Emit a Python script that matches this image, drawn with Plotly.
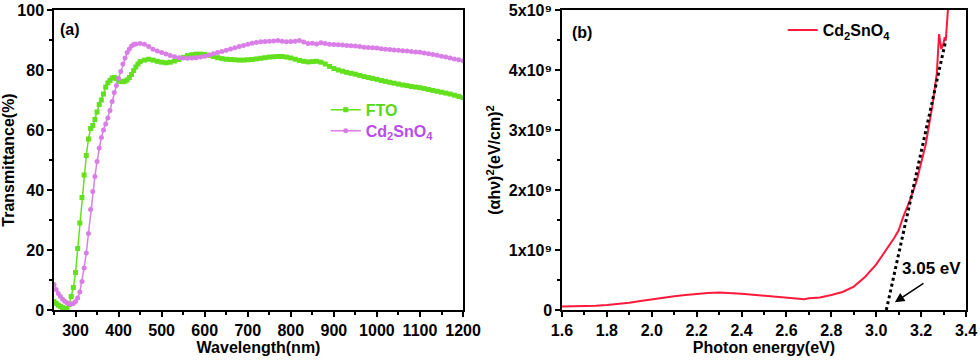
import plotly.graph_objects as go

GREEN = "#63E01E"
VIOLET = "#D97EE6"
VIOLET_TXT = "#B94CEB"
RED = "#FF1A3C"
FONT = "Liberation Sans, Arial, sans-serif"

# (a) transmittance
fto_nm = [250, 255, 260, 265, 270, 275, 280, 285, 290, 295, 300, 305, 310, 315, 320, 325,
          330, 335, 340, 345, 350, 355, 360, 365, 370, 375, 380, 385, 390, 395, 400, 405,
          410, 415, 420, 425, 430, 435, 440, 445, 450, 460, 470, 480, 490, 500, 510, 520,
          530, 540, 550, 560, 570, 580, 590, 600, 610, 620, 630, 640, 650, 660, 670, 680,
          690, 700, 710, 720, 730, 740, 750, 760, 770, 780, 790, 800, 810, 820, 830, 840,
          850, 860, 870, 880, 890, 900, 910, 920, 930, 940, 950, 960, 970, 980, 990, 1000,
          1010, 1020, 1030, 1040, 1050, 1060, 1070, 1080, 1090, 1100, 1110, 1120, 1130,
          1140, 1150, 1160, 1170, 1180, 1190, 1200]
fto_t = [2.8, 2.2, 1.6, 1.2, 0.8, 0.5, 0.4, 1.8, 4.5, 7.5, 12.5, 20.5, 29, 37.5, 45, 51.5,
         57, 60.5, 61.5, 63.5, 66, 68.5, 70, 72, 74.3, 75.7, 76.5, 77.3, 77.5, 77.2, 76.6, 76.2,
         76.1, 76.3, 76.7, 77.5, 78.5, 79.8, 81, 82, 82.8, 83.3, 83.6, 83.3, 82.9, 82.6, 82.4, 82.6,
         83, 83.5, 84.2, 84.8, 85.1, 85.3, 85.3, 85.2, 84.9, 84.5, 84.1, 83.8, 83.6, 83.5, 83.4, 83.3,
         83.3, 83.4, 83.5, 83.7, 83.9, 84.1, 84.3, 84.4, 84.5, 84.5, 84.3, 84.0, 83.6, 83.2, 82.9, 82.7,
         82.8, 82.9, 82.6, 82.0, 81.2, 80.5, 80.0, 79.6, 79.2, 78.9, 78.6, 78.2, 77.8, 77.5, 77.2, 76.9,
         76.5, 76.2, 75.9, 75.6, 75.3, 75.0, 74.8, 74.5, 74.3, 74.1, 73.8, 73.5, 73.2,
         72.9, 72.6, 72.3, 72.0, 71.6, 71.2, 70.8]

cso_nm = [250, 255, 260, 265, 270, 275, 280, 285, 290, 295, 300, 305, 310, 315, 320, 325,
          330, 335, 340, 345, 350, 355, 360, 365, 370, 375, 380, 385, 390, 395, 400, 405,
          410, 415, 420, 425, 430, 435, 440, 450, 460, 470, 480, 490, 500, 510, 520, 530,
          540, 550, 560, 570, 580, 590, 600, 610, 620, 630, 640, 650, 660, 670, 680, 690,
          700, 710, 720, 730, 740, 750, 760, 770, 780, 790, 800, 810, 820, 830, 840, 850,
          860, 870, 880, 890, 900, 910, 920, 930, 940, 950, 960, 970, 980, 990, 1000,
          1010, 1020, 1030, 1040, 1050, 1060, 1070, 1080, 1090, 1100, 1110, 1120, 1130,
          1140, 1150, 1160, 1170, 1180, 1190, 1200]
cso_t = [8.5, 6.8, 5.5, 4.5, 3.6, 2.9, 2.4, 2.0, 2.0, 2.2, 2.8, 4.0, 6.0, 9.5, 14, 19,
         25.5, 33.5, 39.5, 44.5, 49.5, 54, 57.5, 60, 62, 64, 66.5, 69.5, 72.5, 74.8, 77.2, 79.5,
         82, 84, 85.8, 87, 88, 88.5, 88.7, 88.8, 88.6, 87.8, 86.9, 86.3, 85.8, 85.3, 84.8, 84.4,
         84.1, 84.0, 83.9, 84.0, 84.1, 84.3, 84.6, 85.0, 85.4, 85.8, 86.2, 86.6, 87.0, 87.4, 87.8, 88.2,
         88.6, 88.9, 89.2, 89.4, 89.5, 89.6, 89.7, 89.8, 89.6, 89.4, 89.5, 89.6, 89.8, 89.3, 88.8, 88.9,
         88.7, 89.1, 88.8, 88.6, 88.5, 88.4, 88.3, 88.2, 88.1, 88.0, 87.8, 87.6, 87.5, 87.4, 87.3,
         87.1, 86.9, 86.8, 86.7, 86.6, 86.4, 86.3, 86.2, 86.0, 85.9, 85.7, 85.4, 85.2,
         84.9, 84.6, 84.3, 84.0, 83.7, 83.4, 83.1]

# (b) Tauc plot, y in units of 1e9
ev = [1.60, 1.65, 1.70, 1.75, 1.80, 1.85, 1.90, 1.95, 2.00, 2.05, 2.10, 2.15, 2.20, 2.25,
      2.30, 2.35, 2.40, 2.45, 2.50, 2.55, 2.60, 2.65, 2.68, 2.70, 2.75, 2.80, 2.85, 2.90,
      2.95, 3.00, 3.02, 3.05, 3.08, 3.10, 3.12, 3.15, 3.18, 3.20, 3.22, 3.25, 3.27, 3.28,
      3.29, 3.30, 3.305, 3.31, 3.315, 3.32, 3.325]
ahv = [0.06, 0.062, 0.065, 0.072, 0.085, 0.10, 0.12, 0.15, 0.18, 0.205, 0.23, 0.25, 0.27, 0.285,
       0.29, 0.285, 0.27, 0.255, 0.24, 0.22, 0.20, 0.19, 0.18, 0.195, 0.21, 0.25, 0.30, 0.39,
       0.55, 0.76, 0.87, 1.02, 1.2, 1.33, 1.55, 1.83, 2.15, 2.45, 2.75, 3.4, 3.95, 4.6,
       4.35, 4.45, 4.55, 4.5, 4.7, 5.0, 5.3]
fit_ev = [3.045, 3.31]
fit_y = [0.0, 4.5]
y2_ticks = [0, 1, 2, 3, 4, 5]

fig = go.Figure()

fig.add_trace(go.Scatter(
    x=fto_nm, y=fto_t, mode="lines+markers",
    name='<span style="color:#55D81A">FTO</span>',
    line=dict(color=GREEN, width=1.5),
    marker=dict(symbol="square", size=5, color=GREEN),
    xaxis="x", yaxis="y", legend="legend",
))
fig.add_trace(go.Scatter(
    x=cso_nm, y=cso_t, mode="lines+markers",
    name=f'<span style="color:{VIOLET_TXT}">Cd<sub>2</sub>SnO<sub>4</sub></span>',
    line=dict(color=VIOLET, width=1.5),
    marker=dict(symbol="circle", size=5, color=VIOLET),
    xaxis="x", yaxis="y", legend="legend3",
))
fig.add_trace(go.Scatter(
    x=ev, y=[v * 1e9 for v in ahv], mode="lines",
    name="Cd<sub>2</sub>SnO<sub>4</sub>",
    line=dict(color=RED, width=2),
    xaxis="x2", yaxis="y2", legend="legend2",
))
fig.add_trace(go.Scatter(
    x=fit_ev, y=[v * 1e9 for v in fit_y], mode="lines",
    line=dict(color="black", width=3, dash="dot"),
    showlegend=False, xaxis="x2", yaxis="y2",
))

axis_common = dict(
    showline=True, linecolor="black", linewidth=1.5, mirror=True,
    ticks="outside", ticklen=5, tickwidth=1.5, tickcolor="black",
    showgrid=False, zeroline=False, automargin=False,
    tickfont=dict(family=FONT, size=16, color="black", weight="bold"),
)
title_font = dict(family=FONT, size=16, color="black", weight="bold")
leg_common = dict(xanchor="left", yanchor="middle", bgcolor="rgba(0,0,0,0)",
                  font=dict(family=FONT, size=16, color="black", weight="bold"))

fig.update_layout(
    width=980, height=361,
    paper_bgcolor="white", plot_bgcolor="white",
    margin=dict(l=54, r=14, t=10, b=51),
    font=dict(family=FONT, color="black"),
    xaxis=dict(axis_common, domain=[0, 0.4485], range=[250, 1200],
               tickvals=list(range(300, 1201, 100)),
               minor=dict(dtick=50, tick0=250, ticks="outside", ticklen=3, tickcolor="black"),
               title=dict(text="Wavelength(nm)", font=title_font, standoff=4)),
    yaxis=dict(axis_common, domain=[0, 1], range=[0, 100], dtick=20,
               minor=dict(dtick=10, ticks="outside", ticklen=3, tickcolor="black"),
               title=dict(text="Transmittance(%)", font=title_font, standoff=6)),
    xaxis2=dict(axis_common, domain=[0.557, 1.0], range=[1.6, 3.4], dtick=0.2,
                tickformat=".1f", anchor="y2",
                minor=dict(dtick=0.1, ticks="outside", ticklen=3, tickcolor="black"),
                title=dict(text="Photon energy(eV)", font=title_font, standoff=4)),
    yaxis2=dict(axis_common, domain=[0, 1], range=[0, 5.003e9], anchor="x2",
                tickvals=[v * 1e9 for v in y2_ticks],
                ticktext=["0"] + [f"{v}x10⁹" for v in y2_ticks[1:]],
                minor=dict(dtick=0.5e9, ticks="outside", ticklen=3, tickcolor="black"),
                title=dict(text="(αhν)<sup>2</sup>(eV/cm)<sup>2</sup>", font=title_font, standoff=4)),
    legend=dict(leg_common, x=0.298, y=0.667),
    legend3=dict(leg_common, x=0.298, y=0.597),
    legend2=dict(leg_common, x=0.799, y=0.933),
    annotations=[
        dict(text="(a)", x=0.01, y=0.97, xref="x domain", yref="y domain",
             xanchor="left", yanchor="top", showarrow=False,
             font=dict(family=FONT, size=16, weight="bold")),
        dict(text="(b)", x=0.02, y=0.96, xref="x2 domain", yref="y2 domain",
             xanchor="left", yanchor="top", showarrow=False,
             font=dict(family=FONT, size=16, weight="bold")),
        dict(text="3.05 eV", x=3.245, y=0.7e9, xref="x2", yref="y2",
             showarrow=False, font=dict(family=FONT, size=17, weight="bold")),
        dict(text="", x=3.083, y=0.13e9, ax=3.217, ay=0.46e9, xref="x2", yref="y2",
             axref="x2", ayref="y2", showarrow=True, arrowhead=2, arrowsize=1.2,
             arrowwidth=1.6, arrowcolor="black"),
    ],
)

# drop the browser's default 8px body margin so the figure sits at the page corner
fig.write_html("out.html", config={"displayModeBar": False},
               post_script="document.body.style.margin='0';")
